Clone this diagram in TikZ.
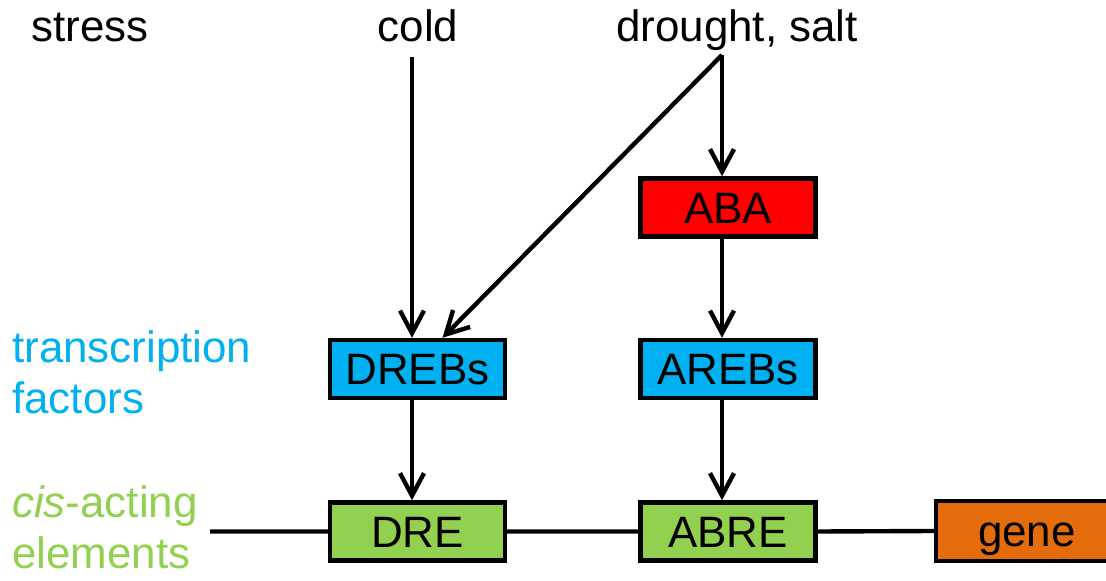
\documentclass[tikz,border=0pt]{standalone}
\usepackage{fontspec}
\setmainfont{Liberation Sans}
\usetikzlibrary{arrows.meta}
\definecolor{tfblue}{HTML}{00B0F0}
\definecolor{cisgreen}{HTML}{92D050}
\definecolor{genered}{HTML}{E46C0A}
\tikzset{
	box/.style={draw,line width=2.5pt,minimum width=3.5cm,minimum height=1.16cm,inner sep=0pt,text height=18pt,text depth=0pt},
	arr/.style={line width=2.5pt,-{Straight Barb[length=4.5mm,width=4.8mm,line width=2.5pt]}}
}
\begin{document}
\begin{tikzpicture}[x=0.02cm,y=-0.02cm,font=\fontsize{25}{29}\selectfont]
			\useasboundingbox (0,0) rectangle (1106,581);
			\node[anchor=base] (stress) at (90,42) {stress};
			\node[anchor=base] (cold) at (418,42) {cold};
			\node[anchor=base] (drought) at (737,42) {drought, salt};
			\coordinate (ds) at (722,55);
			\node[box,fill=red] (aba) at (728,207.5) {ABA};
			\node[box,fill=tfblue] (drebs) at (417.5,369) {DREBs};
			\node[box,fill=tfblue] (arebs) at (728,369) {AREBs};
			\node[box,fill=cisgreen] (dre) at (417.5,531.5) {DRE};
			\node[box,fill=cisgreen] (abre) at (728,531.5) {ABRE};
			\node[box,fill=genered,minimum width=3.64cm,minimum height=1.2cm] (gene) at (1027,531) {gene};
			\node[anchor=base west,align=left,text=tfblue] (tf) at (6,413) {transcription\\factors};
			\node[anchor=base west,align=left,text=cisgreen] (cis) at (6,568) {\textit{cis}-acting\\elements};
			\coordinate (start) at (210,531.5);
			\draw[line width=2.5pt] (start)--(dre.west) (dre.east)--(abre.west) (abre.east)--(gene.west);
			\draw[arr] (cold.south)++(-6,8)--(drebs.north-|412,0);
			\draw[arr] (ds)--(aba.north-|ds);
			\draw[arr] (ds)--([xshift=0.5cm]drebs.north);
			\draw[arr] (aba.south-|ds)--(arebs.north-|ds);
			\draw[arr] (drebs.south-|412,0)--(dre.north-|412,0);
			\draw[arr] (arebs.south-|ds)--(abre.north-|ds);
		\end{tikzpicture}
\end{document}
